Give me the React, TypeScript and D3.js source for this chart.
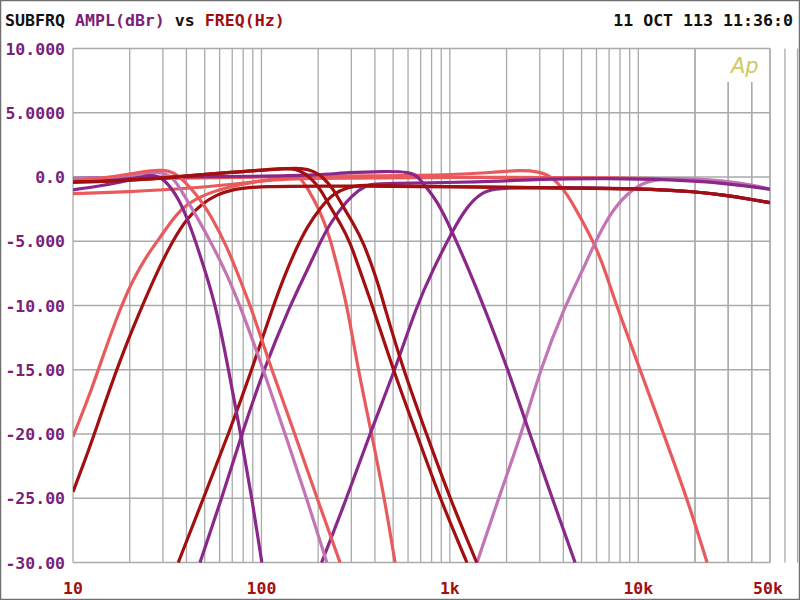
import React from "react";
import * as d3 from "d3";

// ---------- axis ticks ----------
const xTickValues = [10, 100, 1000, 10000, 50000];
const xTickLabels = ["10", "100", "1k", "10k", "50k"];
const yTickValues = [10, 5, 0, -5, -10, -15, -20, -25, -30];
const yTickLabels = ["10.000", "5.0000", "0.0", "-5.000", "-10.00", "-15.00", "-20.00", "-25.00", "-30.00"];

// ---------- series: [frequency Hz, amplitude dBr] ----------
const hpA = [[10,-24.5],[12.3,-21.0],[13.9,-18.7],[17.8,-14.2],[22.4,-10.6],[28.3,-7.2],[34,-4.9],[40.3,-3.2],[49,-2.0],[58,-1.4],[68,-1.0],[95,-0.7],[300,-0.7],[2000,-0.8],[11500,-0.9],[20000,-1.15],[28200,-1.4],[40000,-1.75],[50000,-2.0]];
const hpB = [[10,-20.2],[12.3,-16.9],[13.9,-14.6],[17.8,-10.2],[20.8,-8.0],[24.7,-6.1],[29,-4.7],[33,-3.5],[38.4,-2.3],[49,-1.4],[65.7,-0.8],[95,-0.3],[150,-0.1],[1000,0.0],[10000,-0.05],[18000,-0.2],[28200,-0.45],[40000,-0.7],[50000,-0.95]];
const hpC = [[36.2,-30],[49.2,-25],[66.9,-20],[89,-15],[115.5,-10],[136.7,-7.2],[155,-5.4],[174.6,-3.9],[205,-2.4],[240,-1.3],[285,-0.8],[346,-0.6],[500,-0.7],[2000,-0.8],[11500,-0.9],[20000,-1.15],[28200,-1.4],[40000,-1.75],[50000,-2.0]];
const hpD = [[47.2,-30],[61.6,-25],[78.7,-20],[102.6,-15],[141.8,-10],[174.6,-7.3],[200,-5.4],[231,-3.6],[285,-1.8],[330,-1.0],[364,-0.6],[426,-0.5],[1500,-0.4],[3000,-0.15],[7000,-0.1],[15000,-0.2],[28200,-0.45],[50000,-0.95]];
const hpE = [[208.6,-30],[283.5,-25],[375.7,-20],[512,-15],[667,-10],[814,-7.2],[1040,-4.1],[1234,-2.3],[1447,-1.3],[1696,-0.9],[2446,-0.8],[11500,-0.9],[20000,-1.15],[28200,-1.4],[40000,-1.75],[50000,-2.0]];
const hpF = [[1395,-30],[1810,-25],[2400,-20],[3011,-15],[4088,-10],[5093,-7.2],[5756,-5.4],[7087,-2.8],[8721,-1.3],[10605,-0.4],[13540,-0.1],[20000,-0.15],[28200,-0.3],[40000,-0.6],[50000,-0.95]];

const lp1 = [[10,-1.0],[13.9,-0.7],[17.8,-0.4],[21.9,-0.1],[24.7,0.15],[28.3,0.1],[31.5,-0.4],[37,-1.8],[43.4,-4.4],[51,-7.6],[57.8,-10.3],[66.9,-15],[77.6,-20],[89,-25],[100.5,-30]];
const lp2 = [[10,-0.15],[15,-0.05],[20,0.1],[26,0.35],[31,0.35],[35,-0.3],[38.4,-1.3],[45.5,-3.1],[55.4,-5.4],[65.7,-7.6],[77,-10],[102.6,-15],[133.4,-20],[174,-25],[222.3,-30]];
const lp3 = [[10,-0.3],[14,-0.1],[17.8,0.1],[22,0.35],[26,0.5],[30,0.55],[34,0.35],[37,0.0],[41.8,-0.8],[47,-1.7],[53.4,-2.9],[65.7,-5.4],[77,-8.0],[89,-10.3],[113.2,-15],[150.6,-20],[197.2,-25],[261.4,-30]];
const lp4 = [[10,-1.3],[20,-1.15],[40,-0.9],[80,-0.5],[120,-0.15],[145,0.1],[160,0.0],[174.6,-0.8],[204.6,-2.6],[231,-4.7],[255,-7.2],[284.8,-10],[326.1,-15],[384.6,-20],[449.6,-25],[512,-30]];
const lp5 = [[10,-0.4],[17.8,-0.3],[30,-0.1],[58,0.3],[95,0.5],[125,0.65],[145,0.65],[160,0.5],[181,0],[205,-0.9],[231,-2.3],[262,-3.6],[295,-5.0],[346,-8],[392,-10.2],[500,-15],[667,-20],[885,-25],[1232,-30]];
const lp6 = [[10,-0.4],[17.8,-0.3],[30,-0.1],[58,0.3],[95,0.5],[130,0.65],[165,0.7],[190,0.45],[212,0],[240,-0.9],[271,-2.3],[307,-3.6],[346,-5.0],[411,-8],[452,-10.2],[566,-15],[752,-20],[999,-25],[1389,-30]];
const lp7 = [[10,-0.1],[30,0.0],[100,0.05],[200,0.15],[285,0.35],[450,0.45],[615,0.4],[680,0.0],[721,-0.5],[855,-1.8],[1040,-4.4],[1234,-6.9],[1509,-10],[2039,-15],[2655,-20],[3494,-25],[4618,-30]];
const lp8 = [[10,-0.25],[30,-0.1],[100,0.0],[400,0.1],[1000,0.15],[1700,0.35],[2358,0.55],[3000,0.4],[3320,0.15],[3707,-0.4],[4189,-1.3],[4911,-3.1],[6045,-5.6],[6770,-7.6],[7658,-10],[10222,-15],[13620,-20],[18150,-25],[23180,-30]];

// ---------- styles ----------
const DARK_RED = "#a20f10";
const CORAL = "#e85a5c";
const PURPLE = "#8a288a";
const LIGHT_PURPLE = "#c274b4";

const series: { data: number[][]; color: string }[] = [
  { data: lp4, color: CORAL },
  { data: hpA, color: DARK_RED },
  { data: hpB, color: CORAL },
  { data: lp8, color: CORAL },
  { data: hpF, color: LIGHT_PURPLE },
  { data: lp7, color: PURPLE },
  { data: hpD, color: PURPLE },
  { data: hpE, color: PURPLE },
  { data: hpC, color: DARK_RED },
  { data: lp2, color: LIGHT_PURPLE },
  { data: lp3, color: CORAL },
  { data: lp1, color: PURPLE },
  { data: lp5, color: DARK_RED },
  { data: lp6, color: DARK_RED },
];

const LEFT = 73, RIGHT = 770, TOP = 48.5, BOTTOM = 562.5;

export default function App() {
  const x = d3.scaleLog().domain([10, 50000]).range([LEFT, RIGHT]);
  const y = d3.scaleLinear().domain([10, -30]).range([TOP, BOTTOM]);

  const line = d3
    .line<number[]>()
    .x((d) => x(d[0]))
    .y((d) => y(d[1]))
    .curve(d3.curveBasis);

  const gridFreqs: number[] = [];
  for (let dec = 10; dec <= 10000; dec *= 10) {
    for (let m = 1; m <= 9; m++) gridFreqs.push(dec * m);
  }
  gridFreqs.push(20000, 30000, 40000, 50000);

  const mono = "'DejaVu Sans Mono', 'Liberation Mono', monospace";
  const TXT = "#111111";
  const Y_COL = "#7a1f7a";
  const X_COL = "#a01010";

  return (
    <svg
      width={800}
      height={600}
      style={{ position: "fixed", left: 0, top: 0, background: "#fff" }}
    >
      <defs>
        <clipPath id="plotClip">
          <rect x={LEFT} y={TOP - 2} width={RIGHT - LEFT} height={BOTTOM - TOP + 2.5} />
        </clipPath>
      </defs>
      <rect x={0.5} y={0.5} width={799} height={599} fill="#fff" stroke="#707070" strokeWidth={1.5} />

      {/* grid */}
      <g stroke="#aaaaaa" strokeWidth={1.3}>
        {gridFreqs.map((f) => (
          <line
            key={"v" + f}
            x1={x(f)}
            x2={x(f)}
            y1={f === 30000 || f === 40000 ? 82 : TOP}
            y2={BOTTOM}
          />
        ))}
        {yTickValues.map((v) => (
          <line key={"h" + v} x1={LEFT} x2={RIGHT} y1={y(v)} y2={y(v)} />
        ))}
      </g>

      {/* curves */}
      <g clipPath="url(#plotClip)" fill="none" strokeWidth={3.2} strokeLinejoin="round">
        {series.map((s, i) => (
          <path key={i} d={line(s.data) || ""} stroke={s.color} />
        ))}
      </g>

      {/* y labels */}
      <g fontFamily={mono} fontWeight="bold" fontSize={16.5} fill={Y_COL} textAnchor="end">
        {yTickValues.map((v, i) => (
          <text key={v} x={65} y={y(v) + 6}>
            {yTickLabels[i]}
          </text>
        ))}
      </g>

      {/* x labels */}
      <g fontFamily={mono} fontWeight="bold" fontSize={16.5} fill={X_COL} textAnchor="middle">
        {xTickValues.map((v, i) => (
          <text key={v} x={i === xTickValues.length - 1 ? x(v) - 2 : x(v)} y={594}>
            {xTickLabels[i]}
          </text>
        ))}
      </g>

      {/* title */}
      <text x={5} y={26} fontFamily={mono} fontWeight="bold" fontSize={16.6} style={{ whiteSpace: "pre" }}>
        <tspan fill={TXT}>SUBFRQ </tspan>
        <tspan fill={Y_COL}>AMPL(dBr)</tspan>
        <tspan fill={TXT}> vs </tspan>
        <tspan fill={X_COL}>FREQ(Hz)</tspan>
      </text>
      <text x={793} y={26} fontFamily={mono} fontWeight="bold" fontSize={16.6} fill={TXT} textAnchor="end">
        11 OCT 113 11:36:0
      </text>

      {/* Ap logo */}
      <text x={731} y={73} fontFamily="'DejaVu Sans', sans-serif" fontStyle="italic" fontSize={21} fill="#cfc866">
        Ap
      </text>
    </svg>
  );
}
